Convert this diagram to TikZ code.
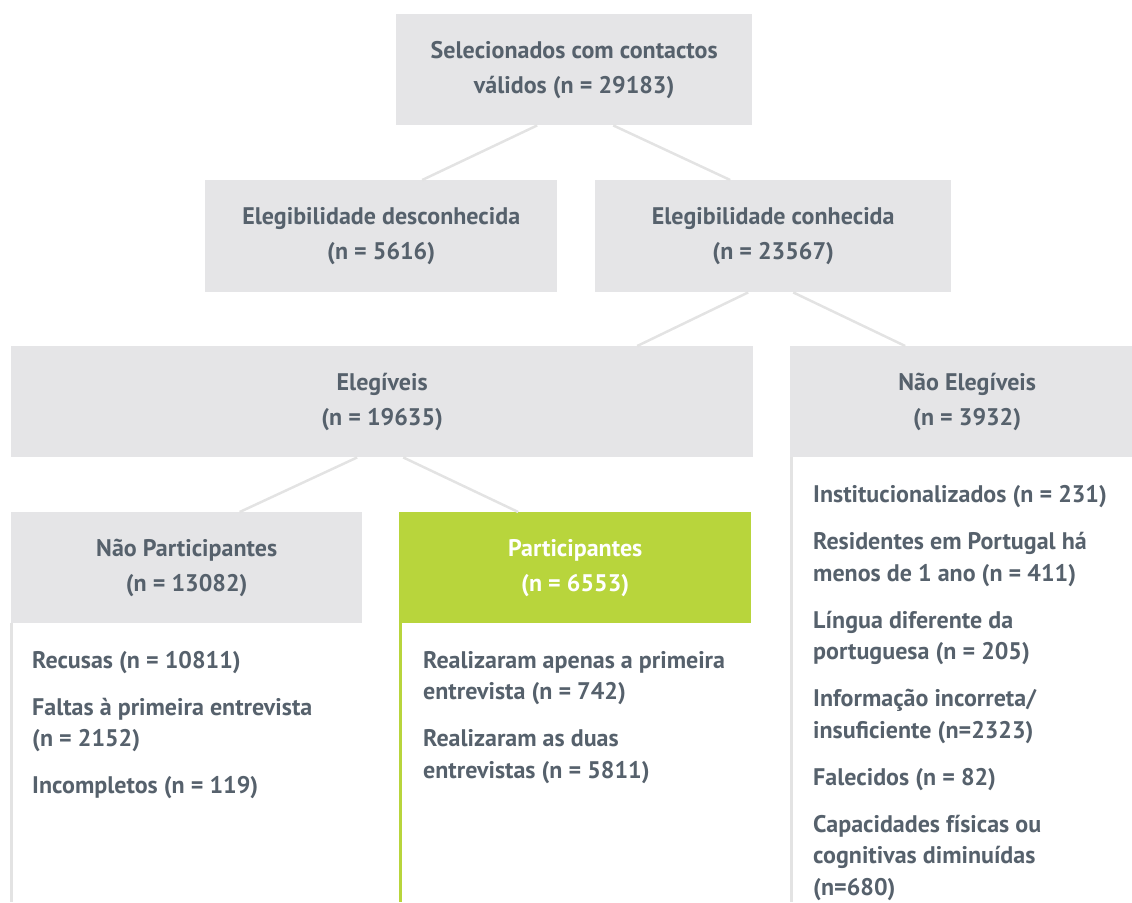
\documentclass[tikz,border=0pt]{standalone}
\usepackage{fontspec}
\setmainfont{PT Sans}
\definecolor{txt}{HTML}{56616C}
\definecolor{boxgray}{HTML}{E5E5E7}
\definecolor{linegray}{HTML}{E3E3E3}
\definecolor{pgreen}{HTML}{B8D53C}
\tikzset{
  hdr/.style={fill=boxgray, text=txt, font=\bfseries\fontsize{24}{35}\selectfont, align=center, inner sep=0pt, anchor=north west},
  hdrgreen/.style={hdr, fill=pgreen, text=white},
  itemtext/.style={text=txt, font=\bfseries\fontsize{24}{31.5}\selectfont, anchor=base west, inner sep=0pt},
  conn/.style={draw=linegray, line width=2.5pt},
  rail/.style={draw=linegray, line width=2.5pt},
  greenrail/.style={draw=pgreen, line width=2.5pt},
}
\begin{document}
\begin{tikzpicture}[x=1pt,y=-1pt]
\useasboundingbox (0,0) rectangle (1132,902);
\coordinate (bot) at (0,902);

% header boxes
\node[hdr, minimum width=356pt, minimum height=111pt] (top) at (396,14) {Selecionados com contactos\\válidos (n = 29183)};
\node[hdr, minimum width=352pt, minimum height=112pt] (desc) at (205,180) {Elegibilidade desconhecida\\(n = 5616)};
\node[hdr, minimum width=356pt, minimum height=112pt] (conh) at (595,180) {Elegibilidade conhecida\\(n = 23567)};
\node[hdr, minimum width=742pt, minimum height=111pt] (eleg) at (11,346) {Elegíveis\\(n = 19635)};
\node[hdr, minimum width=342pt, minimum height=111pt] (nele) at (790,346) {\hspace*{12pt}Não Elegíveis\\\hspace*{12pt}(n = 3932)};
\node[hdr, minimum width=351pt, minimum height=111pt] (npart) at (11,512) {Não Participantes\\(n = 13082)};
\node[hdrgreen, minimum width=352pt, minimum height=111pt] (part) at (399,512) {Participantes\\(n = 6553)};

% connectors
\draw[conn] ([xshift=-37pt]top.south) -- ([xshift=41pt]desc.north);
\draw[conn] ([xshift=39pt]top.south) -- ([xshift=-43pt]conh.north);
\draw[conn] ([xshift=-25pt]conh.south) -- ([xshift=255pt]eleg.north);
\draw[conn] ([xshift=20pt]conh.south) -- ([xshift=-56pt]nele.north);
\draw[conn] ([xshift=-25pt]eleg.south) -- ([xshift=53pt]npart.north);
\draw[conn] ([xshift=21pt]eleg.south) -- ([xshift=-57pt]part.north);

% side rails
\coordinate (npr) at ([xshift=0.5pt]npart.south west);
\coordinate (pr) at ([xshift=1.25pt]part.south west);
\coordinate (ner) at ([xshift=1.25pt]nele.south west);
\draw[rail] (npr) -- (npr |- bot);
\draw[greenrail] (pr) -- (pr |- bot);
\draw[rail] (ner) -- (ner |- bot);

% Não Participantes items
\node[itemtext] (np1) at (32,668) {Recusas (n = 10811)};
\node[itemtext] (np2a) at (32,715) {Faltas à primeira entrevista};
\node[itemtext] (np2b) at (32,746.5) {(n = 2152)};
\node[itemtext] (np3) at (32,793.5) {Incompletos (n = 119)};

% Participantes items
\node[itemtext] (p1a) at (423,668) {Realizaram apenas a primeira};
\node[itemtext] (p1b) at (423,699.5) {entrevista (n = 742)};
\node[itemtext] (p2a) at (423,746.5) {Realizaram as duas};
\node[itemtext] (p2b) at (423,778) {entrevistas (n = 5811)};

% Não Elegíveis items
\node[itemtext] (ne1) at (813,502.5) {Institucionalizados (n = 231)};
\node[itemtext] (ne2a) at (813,549.5) {Residentes em Portugal há};
\node[itemtext] (ne2b) at (813,581) {menos de 1 ano (n = 411)};
\node[itemtext] (ne3a) at (813,628) {Língua diferente da};
\node[itemtext] (ne3b) at (813,659.5) {portuguesa (n = 205)};
\node[itemtext] (ne4a) at (813,706.5) {Informação incorreta/};
\node[itemtext] (ne4b) at (813,738) {insuficiente (n=2323)};
\node[itemtext] (ne5) at (813,785) {Falecidos (n = 82)};
\node[itemtext] (ne6a) at (813,832) {Capacidades físicas ou};
\node[itemtext] (ne6b) at (813,863.5) {cognitivas diminuídas};
\node[itemtext] (ne6c) at (813,895) {(n=680)};
\end{tikzpicture}
\end{document}
